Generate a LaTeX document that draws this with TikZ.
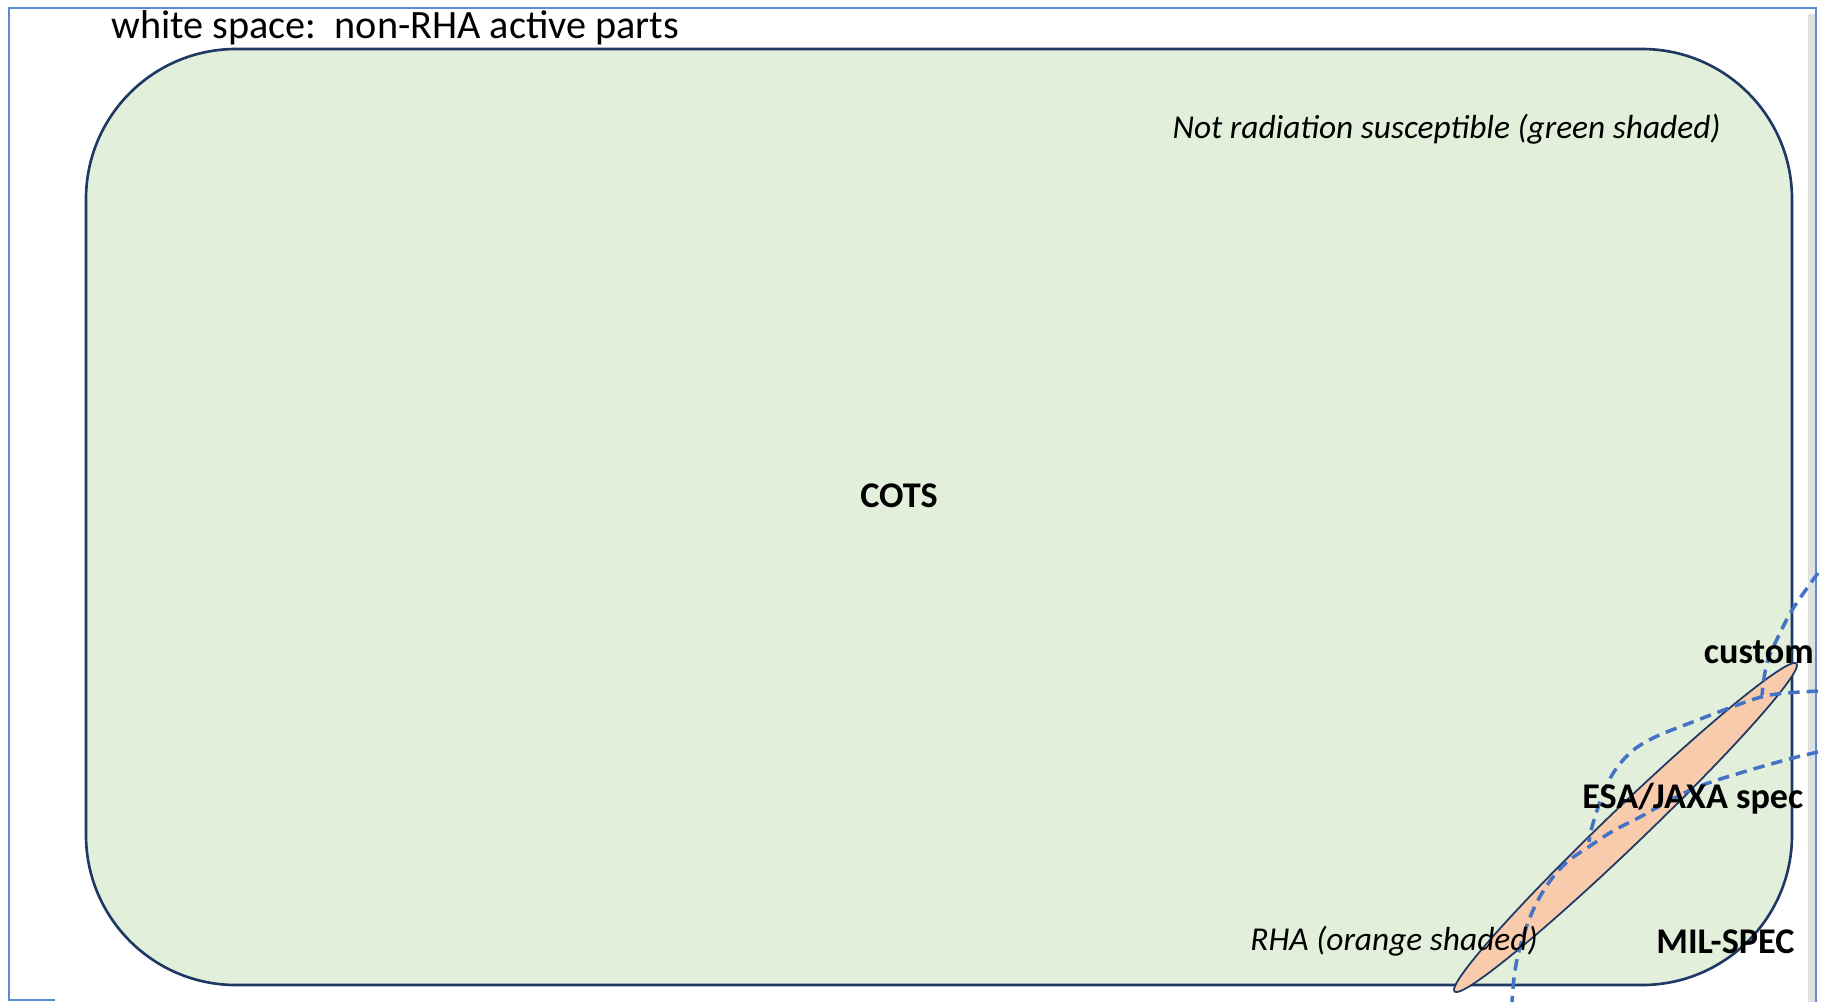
\documentclass[tikz,border=0pt]{standalone}
\usepackage{fontspec}
\setmainfont{Carlito}
\usepackage{xcolor}

\definecolor{cotsgreen}{HTML}{E2EFDA}
\definecolor{rhaorange}{HTML}{F8CBAD}
\definecolor{edgenavy}{HTML}{1F3864}
\definecolor{specblue}{HTML}{4472C4}
\definecolor{frameblue}{HTML}{5B8BD0}

\begin{document}
\begin{tikzpicture}[x=0.02cm, y=-0.02cm,
		frame/.style = {draw=frameblue, line width=1pt},
		part/.style = {font=\fontsize{20.6}{24}\selectfont\bfseries, inner sep=0pt},
		note/.style = {font=\fontsize{19}{22}\selectfont\itshape, inner sep=0pt},
		spec/.style = {draw=specblue, line width=2pt, dash pattern=on 6.5pt off 4pt}]
		\useasboundingbox (0,0) rectangle (1826,1002);
	% outer frame
		\fill[black!12] (1808,14) rectangle (1815,1002);
		\draw[frame] (55,1000) -- (9,1000) -- (9,8) -- (1816,8) -- (1816,1002);
	% parts
		\draw[fill=cotsgreen, draw=edgenavy, line width=1.5pt, rounded corners=3cm] (86,49) rectangle (1792,985);
		\draw[fill=rhaorange, draw=edgenavy, line width=1pt, rotate around={43.8:(1625.5,827.5)}] (1625.5,827.5) ellipse [x radius=237, y radius=19];
	% spec boundaries
		\draw[spec] plot[smooth, tension=0.6] coordinates {(1818,573) (1794,607) (1780,633) (1767,663) (1762,695)};
		\draw[spec] plot[smooth, tension=0.6] coordinates {(1818,691) (1787,693) (1765,696) (1740,704) (1690,723) (1653,738) (1630,753) (1612,775) (1600,802) (1592,827) (1589,842)};
		\draw[spec] plot[smooth, tension=0.6] coordinates {(1818,752) (1793,758) (1750,770) (1700,786) (1667,802) (1640,817) (1613,831) (1590,846) (1567,862) (1550,881) (1536,904) (1526,928) (1518,955) (1514,978) (1512,1002)};
	% texts
		\node [anchor=base west, inner sep=0pt, font=\fontsize{22.9}{27}\selectfont] (white) at (111,38) {white space:\ \ non-RHA active parts};
		\node [note, anchor=base east] (green) at (1721,138) {Not radiation susceptible (green shaded)};
		\node [part] (cots) at (899,496) {COTS};
		\node [part, anchor=base east] (custom) at (1814,663) {custom};
		\node [part, anchor=base west] (esa) at (1582,808) {ESA/JAXA spec};
		\node [part, anchor=base west] (mil) at (1656,953) {MIL-SPEC};
		\node [note, anchor=base east] (rha) at (1538,950) {RHA (orange shaded)};
\end{tikzpicture}
\end{document}
